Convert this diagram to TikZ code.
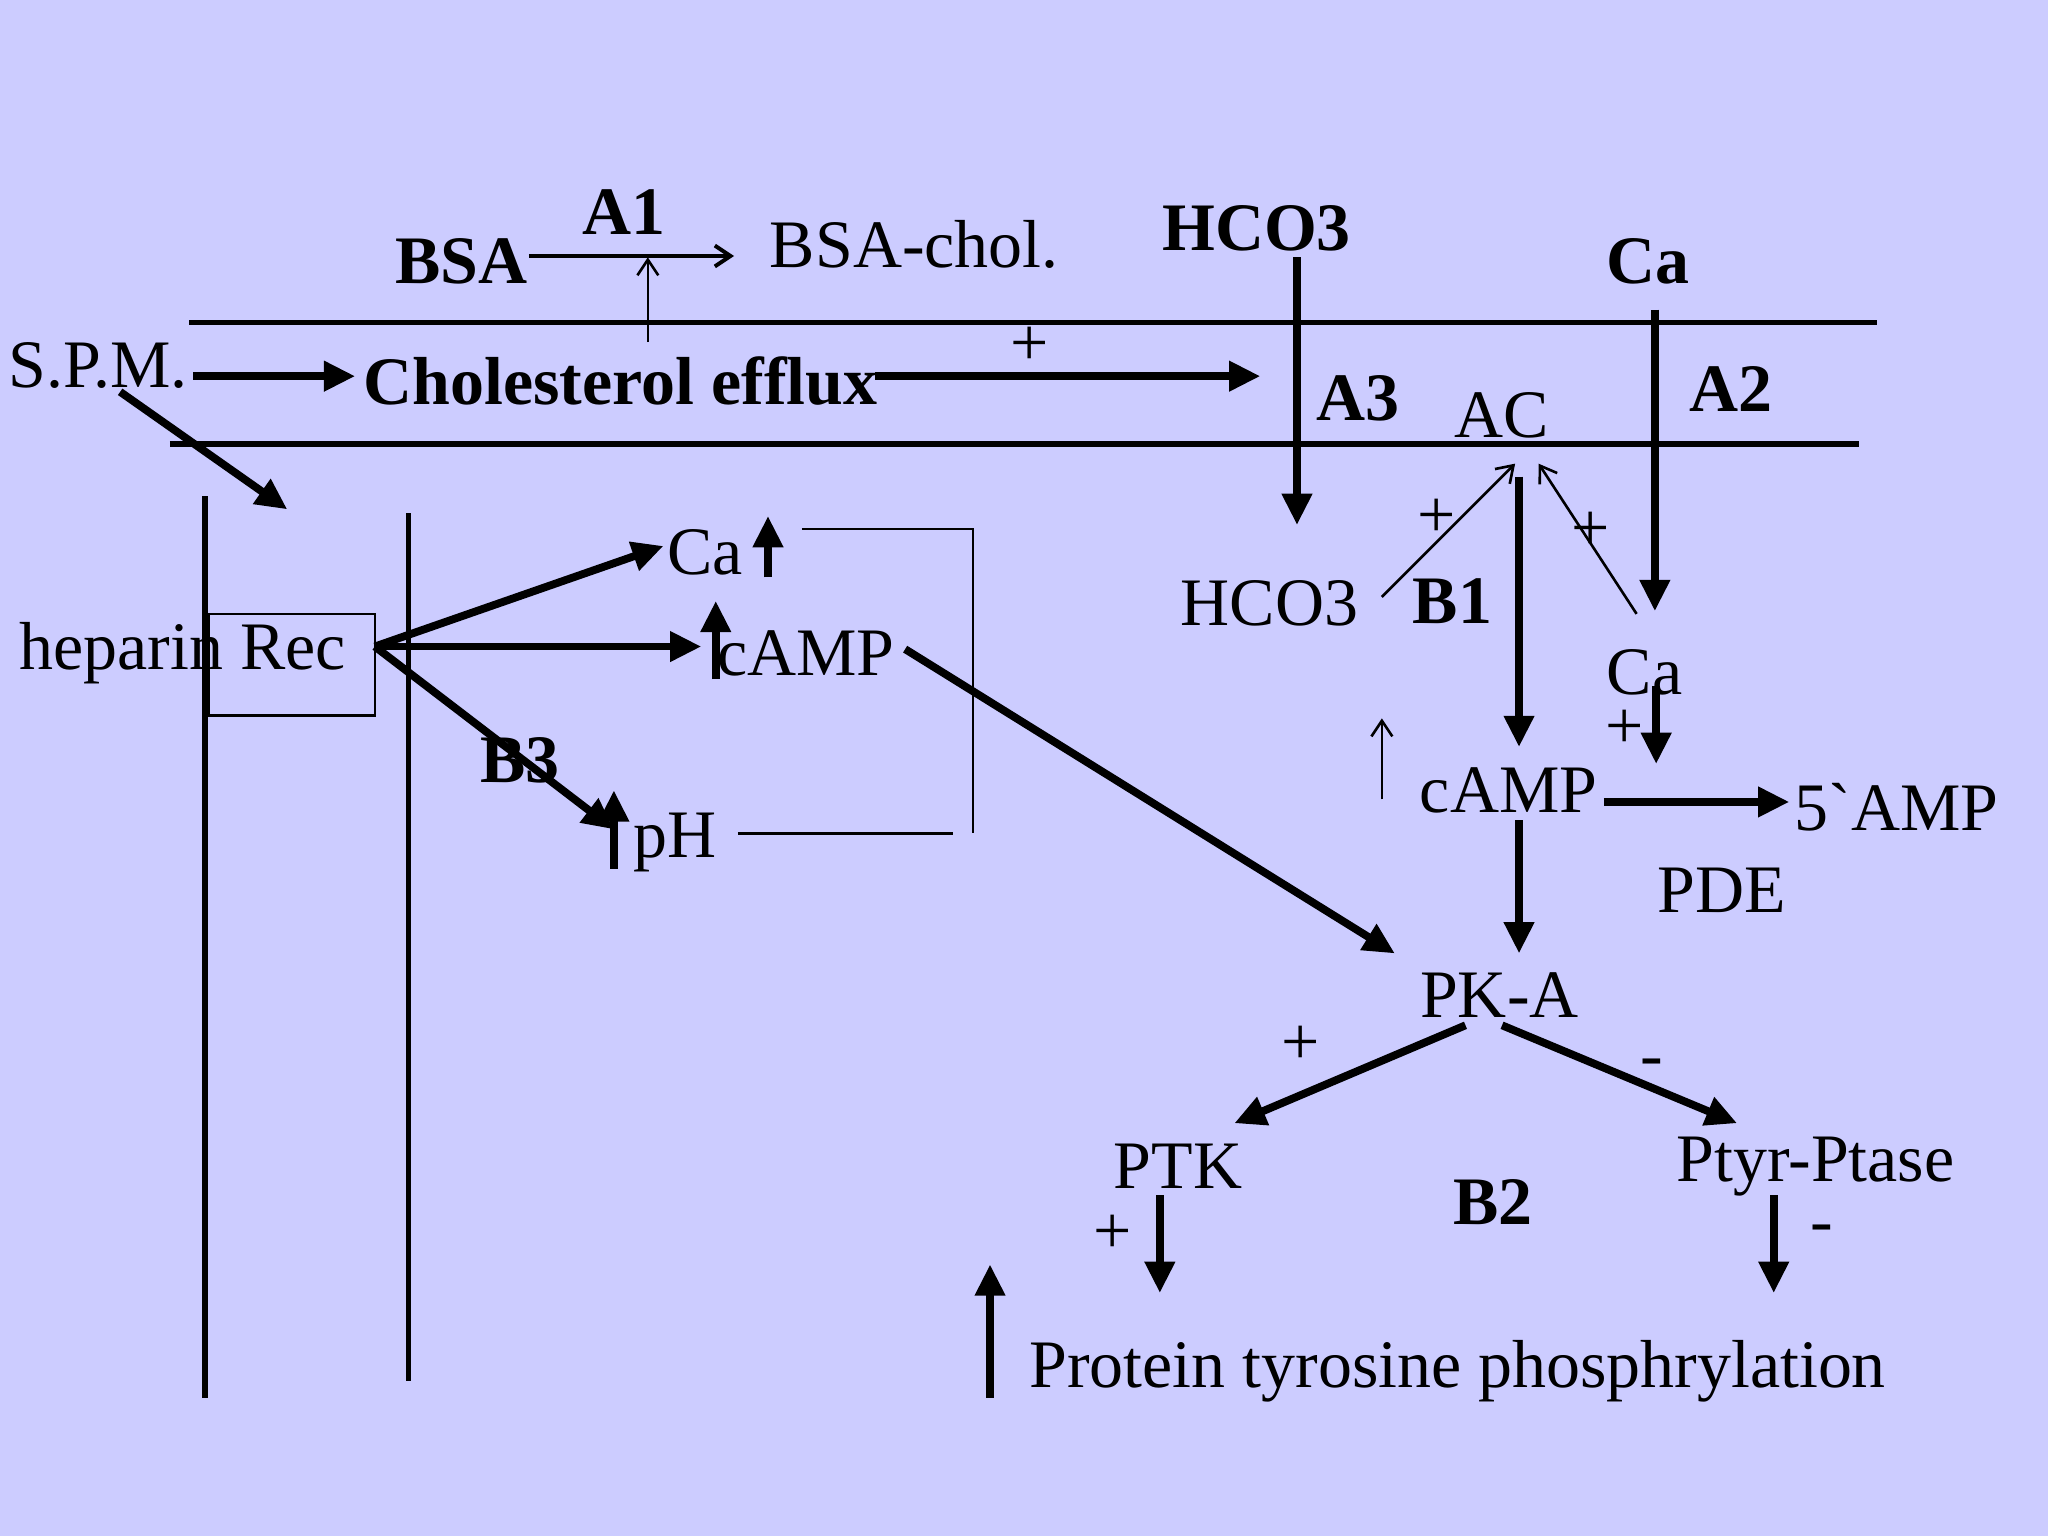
\documentclass[tikz,border=0pt]{standalone}
\usepackage{fontspec}
\setmainfont{Liberation Serif}
\usetikzlibrary{arrows.meta}
\definecolor{bg}{HTML}{CCCCFF}
\begin{document}
\begin{tikzpicture}[x=0.5pt,y=-0.5pt,
 t/.style={font=\fontsize{26}{29}\selectfont,inner sep=0pt},
 tb/.style={font=\fontsize{26}{29}\selectfont\bfseries,inner sep=0pt},
 big/.style={line width=3pt,-{Triangle[length=12pt,width=11pt]}},
 thin/.style={line width=1pt,-{Straight Barb[length=6pt,width=8pt]}},
 mem/.style={line width=2pt}]
\fill[bg] (0,0) rectangle (1568,1176);
\useasboundingbox (0,0) rectangle (1568,1176);
% membranes
\draw[mem] (145,247) -- (1437,247);
\draw[mem] (130,340) -- (1423,340);
\draw[mem] (157,380) -- (157,1070);
\draw[mem] (313,393) -- (313,1057);
% texts
\node[tb] (bsa) at (353,200) {BSA};
\node[tb] (a1) at (478,162) {A1};
\node[t] (bsachol) at (700,187) {BSA-chol.};
\node[tb] (hco3a) at (962,175) {HCO3};
\node[tb] (caa) at (1262,200) {Ca};
\node[t] (spm) at (75,280) {S.P.M.};
\node[tb] (chol) at (475,292) {Cholesterol efflux};
\node[t] (p1) at (788,265) {+};
\node[tb] (a3) at (1040,305) {A3};
\node[t] (ac) at (1150,318) {AC};
\node[tb] (a2) at (1325,298) {A2};
\draw[line width=1pt] (160,470) rectangle (287,548);
\node[t] (hep) at (140,500) {heparin Rec};
\node[t] (ca1) at (540,423) {Ca};
\node[t] (camp1) at (617,500) {cAMP};
\node[tb] (b3) at (398,582) {B3};
\node[t] (ph) at (517,645) {pH};
\node[t] (hco3b) at (972,462) {HCO3};
\node[tb] (b1) at (1112,460) {B1};
\node[t] (p2) at (1100,397) {+};
\node[t] (p3) at (1218,407) {+};
\node[t] (ca2) at (1259,515) {Ca};
\node[t] (p4) at (1244,558) {+};
\node[t] (camp2) at (1155,605) {cAMP};
\node[t] (amp) at (1452,618) {5\textasciigrave AMP};
\node[t] (pde) at (1318,682) {PDE};
\node[t] (pka) at (1148,762) {PK-A};
\node[t] (p5) at (996,800) {+};
\node[t] (m1) at (1265,818) {-};
\node[t] (ptk) at (902,893) {PTK};
\node[tb] (b2) at (1143,920) {B2};
\node[t] (ptase) at (1390,893) {Ptyr-Ptase};
\node[t] (p6) at (852,945) {+};
\node[t] (m2) at (1395,945) {-};
\node[t] (prot) at (1116,1050) {Protein tyrosine phosphrylation};
% top arrows
\draw[line width=1.5pt,-{Straight Barb[length=6pt,width=8pt]}] (405,196) -- (562,196);
\draw[thin] (496,262) -- (496,197);
\draw[big] (993,197) -- (993,402);
\draw[big] (1267,237) -- (1267,468);
\draw[big] (148,288) -- (272,288);
\draw[big] (670,288) -- (965,288);
\draw[big] (92,300) -- (220,390);
% heparin arrows
\coordinate (h) at (287,495);
\draw[big] (h) -- (508,418);
\draw[big] (h) -- (537,495);
\draw[big] (h) -- (470,635);
\draw[big] (588,442) -- (588,395);
\draw[big] (548,520) -- (548,460);
\draw[big] (470,665) -- (470,605);
\draw[line width=1pt] (614,405) -- (745,405) -- (745,638);
\draw[line width=1pt] (565,638) -- (730,638);
\draw[big] (693,497) -- (1068,730);
% AC region
\draw[thin] (1058,457) -- (1160,355);
\draw[thin] (1253,470) -- (1178,355);
\draw[big] (1163,365) -- (1163,572);
\draw[big] (1268,525) -- (1268,585);
\draw[thin] (1058,612) -- (1058,550);
\draw[big] (1228,614) -- (1370,614);
\draw[big] (1163,628) -- (1163,730);
\draw[big] (1122,785) -- (945,860);
\draw[big] (1150,785) -- (1330,860);
\draw[big] (888,915) -- (888,990);
\draw[big] (1358,915) -- (1358,990);
\draw[big] (758,1070) -- (758,968);
\end{tikzpicture}
\end{document}
